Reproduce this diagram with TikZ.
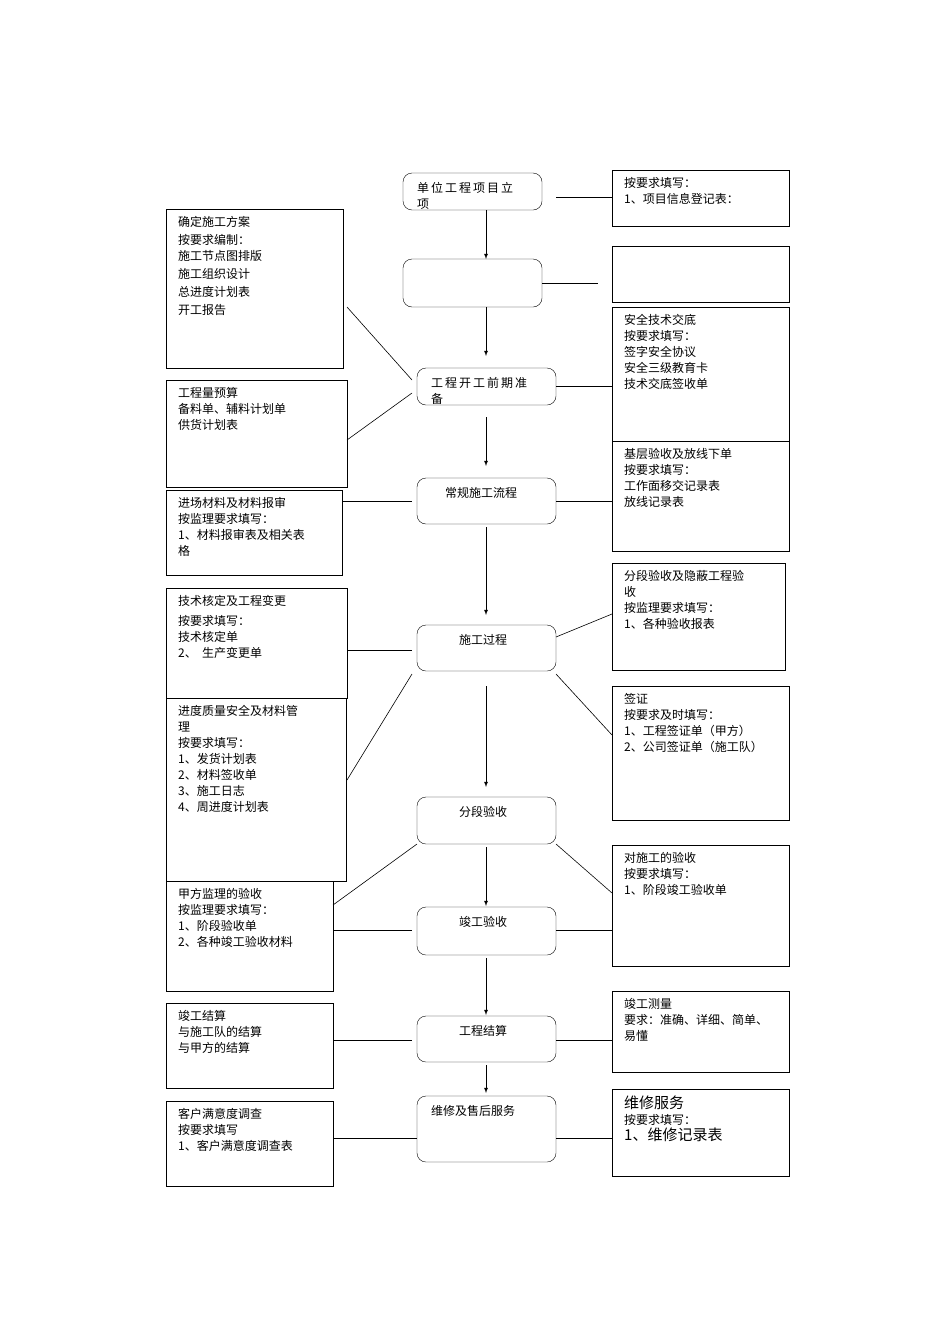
\documentclass[tikz,border=0pt]{standalone}
\usepackage{fontspec}
\newfontfamily\cjk{Noto Sans CJK SC}
\begin{document}
\begin{tikzpicture}[x=1pt,y=-1pt,
 box/.style={draw,inner sep=0,outer sep=0,anchor=north west},
 rbox/.style={box,rounded corners=9pt},
 txt/.style={anchor=north west,inner sep=0,align=left,font=\cjk\fontsize{12}{16}\selectfont},
 ar/.style={->,>=latex,line width=0.8pt},
 ln/.style={line width=0.6pt}]
\useasboundingbox (0,0) rectangle (950,1344);
\newcommand\bx[6]{\node[box,minimum width={(#4-#2)*1pt},minimum height={(#5-#3)*1pt}] (#1) at (#2,#3) {};
 \node[txt] (#1t) at (#2+12,#3+7) {#6};}
\newcommand\cb[6]{\node[rbox,minimum width={(#4-#2)*1pt},minimum height={(#5-#3)*1pt}] (#1) at (#2,#3) {};
 \node[txt] (#1t) at (#2+14,#3+9) {#6};}
% center
\cb{C1}{403}{173}{542}{210}{单\,位\,工\,程\,项\,目\,立\\项}
\cb{C2}{403}{259}{542}{307}{}
\cb{C3}{417}{368}{556}{405}{工\,程\,开\,工\,前\,期\,准\\备}
\cb{C4}{417}{478}{556}{524}{\hspace{14pt}常规施工流程}
\cb{C5}{417}{625}{556}{671}{\hspace{28pt}施工过程}
\cb{C6}{417}{797}{556}{844}{\hspace{28pt}分段验收}
\cb{C7}{417}{907}{556}{955}{\hspace{28pt}竣工验收}
\cb{C8}{417}{1016}{556}{1062}{\hspace{28pt}工程结算}
\cb{C9}{417}{1096}{556}{1162}{维修及售后服务}
% left
\bx{L1}{166}{209}{343}{368}{确定施工方案\\[2pt]按要求编制：\\施工节点图排版\\[2pt]施工组织设计\\[2pt]总进度计划表\\[2pt]开工报告}
\bx{L2}{166}{380}{347}{487}{工程量预算\\备料单、辅料计划单\\供货计划表}
\bx{L3}{166}{490}{342}{575}{进场材料及材料报审\\按监理要求填写：\\1、材料报审表及相关表\\格}
\bx{L4}{166}{588}{347}{698}{技术核定及工程变更\\[4pt]按要求填写：\\技术核定单\\2、\ \ 生产变更单}
\bx{L5}{166}{698}{346}{881}{进度质量安全及材料管\\理\\按要求填写：\\1、发货计划表\\2、材料签收单\\3、施工日志\\4、周进度计划表}
\bx{L6}{166}{881}{333}{991}{甲方监理的验收\\按监理要求填写：\\1、阶段验收单\\2、各种竣工验收材料}
\bx{L7}{166}{1003}{333}{1088}{竣工结算\\与施工队的结算\\与甲方的结算}
\bx{L8}{166}{1101}{333}{1186}{客户满意度调查\\按要求填写\\1、客户满意度调查表}
% right
\bx{R1}{612}{170}{789}{226}{按要求填写：\\1、项目信息登记表：}
\bx{R2}{612}{246}{789}{302}{}
\bx{R3}{612}{307}{789}{441}{安全技术交底\\按要求填写：\\签字安全协议\\安全三级教育卡\\技术交底签收单}
\bx{R4}{612}{441}{789}{551}{基层验收及放线下单\\按要求填写：\\工作面移交记录表\\放线记录表}
\bx{R5}{612}{563}{785}{670}{分段验收及隐蔽工程验\\收\\按监理要求填写：\\1、各种验收报表}
\bx{R6}{612}{686}{789}{820}{签证\\按要求及时填写：\\1、工程签证单（甲方）\\2、公司签证单（施工队）}
\bx{R7}{612}{845}{789}{966}{对施工的验收\\按要求填写：\\1、阶段竣工验收单}
\bx{R8}{612}{991}{789}{1072}{竣工测量\\要求：准确、详细、简单、\\易懂}
\node[box,minimum width=177pt,minimum height=87pt] (R9) at (612,1089) {};
\node[txt] (R9t) at (624,1096) {{\fontsize{15}{18}\selectfont 维修服务}\\按要求填写：\\{\fontsize{15}{18}\selectfont 1、维修记录表}};
% arrows
\coordinate (ax) at (486,0);
\draw[ar] (C1.south -| ax) -- (C2.north -| ax);
\draw[ar] (C2.south -| ax) -- ([yshift=12]C3.north -| ax);
\draw[ar] ([yshift=-12]C3.south -| ax) -- ([yshift=12]C4.north -| ax);
\draw[ar] ([yshift=-3]C4.south -| ax) -- ([yshift=10]C5.north -| ax);
\draw[ar] ([yshift=-15]C5.south -| ax) -- ([yshift=10]C6.north -| ax);
\draw[ar] ([yshift=-3]C6.south -| ax) -- ([yshift=1]C7.north -| ax);
\draw[ar] ([yshift=-3]C7.south -| ax) -- ([yshift=1]C8.north -| ax);
\draw[ar] ([yshift=-3]C8.south -| ax) -- ([yshift=3]C9.north -| ax);
% side lines
\coordinate (p1) at (556,197); \draw[ln] (p1) -- (p1 -| R1.west);
\coordinate (p2) at (598,283); \draw[ln] (C2.east |- p2) -- (p2);
\coordinate (q1) at (347,307); \coordinate (q2) at (412,380); \draw[ln] (q1) -- (q2);
\coordinate (q3) at (347,440); \coordinate (q4) at (412,393); \draw[ln] (q3) -- (q4);
\draw[ln] (C3.east) -- (C3.east -| R3.west);
\draw[ln] (C4.west -| L3.east) -- ([xshift=-5]C4.west);
\draw[ln] (C4.east) -- (C4.east -| R4.west);
\coordinate (q5) at (347,650); \draw[ln] (q5) -- ([xshift=-5]q5 -| C5.west);
\coordinate (q6) at (556,637); \coordinate (q7) at (612,614); \draw[ln] (q6) -- (q7);
\coordinate (q8) at (556,674); \coordinate (q9) at (612,735); \draw[ln] (q8) -- (q9);
\coordinate (q10) at (347,780); \coordinate (q11) at (412,674); \draw[ln] (q10) -- (q11);
\coordinate (q12) at (333,905); \draw[ln] (C6.south west) -- (q12);
\coordinate (q13) at (612,893); \draw[ln] (C6.south east) -- (q13);
\coordinate (q14) at (333,930); \draw[ln] (q14) -- ([xshift=-5]q14 -| C7.west);
\draw[ln] (C7.east |- q14) -- (q14 -| R7.west);
\coordinate (q15) at (333,1040); \draw[ln] (q15) -- ([xshift=-5]q15 -| C8.west);
\draw[ln] (C8.east |- q15) -- (q15 -| R8.west);
\coordinate (q16) at (333,1138); \draw[ln] (q16) -- (q16 -| C9.west);
\draw[ln] (C9.east |- q16) -- (q16 -| R9.west);
\end{tikzpicture}
\end{document}
